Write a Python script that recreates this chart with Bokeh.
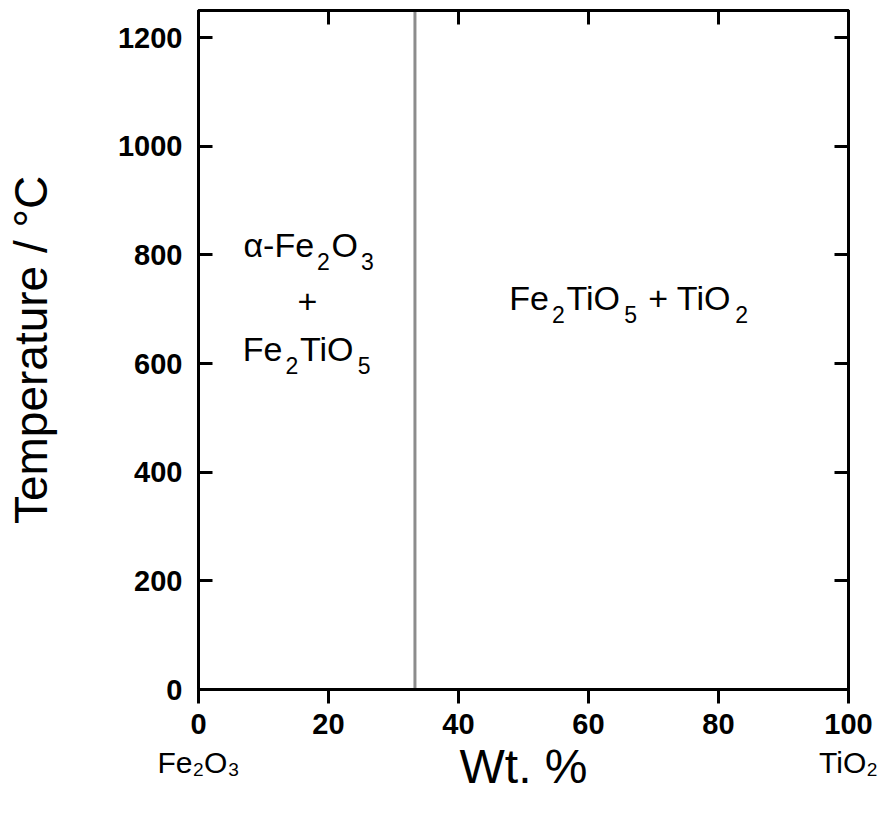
from bokeh.plotting import figure
from bokeh.models import FixedTicker, LinearAxis, Label, CustomJSTickFormatter
from bokeh.embed import file_html
from bokeh.resources import INLINE

# ---------------- data ----------------
x_ticks = [0, 20, 40, 60, 80, 100]
y_ticks = [0, 200, 400, 600, 800, 1000, 1200]
x_range = (0, 100)
y_range = (0, 1250)
boundary_wt = [33.3, 33.3]          # Fe2TiO5 composition (wt.% TiO2)
boundary_temp = [0, 1250]
x_title = "Wt. %"
y_title = "Temperature / °C"
end_ticks = [0, 100]
end_labels = ["Fe₂O₃", "TiO₂"]
phase_left_1 = [("α-Fe", False), ("2", True), ("O", False), ("3", True)]
phase_left_2 = [("+", False)]
phase_left_3 = [("Fe", False), ("2", True), ("TiO", False), ("5", True)]
phase_right = [("Fe", False), ("2", True), ("TiO", False), ("5", True),
               (" + TiO", False), ("2", True)]

# ---------------- layout ----------------
W, H = 878, 800
FL, FR, FT, FB = 198, 848, 10, 689   # frame edges in figure pixels
FONT = "Liberation Sans"

p = figure(width=W, height=H, x_range=x_range, y_range=y_range,
           output_backend="svg", toolbar_location=None,
           min_border_left=FL, min_border_right=W - FR,
           min_border_top=FT, min_border_bottom=H - FB)
p.xgrid.visible = False
p.ygrid.visible = False
p.background_fill_color = "white"
p.border_fill_color = "white"
p.outline_line_color = "black"
p.outline_line_width = 3


def style_axis(ax, ticks, tick_in, tick_out, labels=True):
    ax.ticker = FixedTicker(ticks=ticks)
    ax.axis_line_width = 3
    ax.axis_line_color = "black"
    ax.major_tick_line_width = 3
    ax.major_tick_line_color = "black"
    ax.major_tick_in = tick_in
    ax.major_tick_out = tick_out
    ax.minor_tick_line_color = None
    if labels:
        ax.major_label_text_font = FONT
        ax.major_label_text_font_style = "bold"
        ax.major_label_text_font_size = "29px"
        ax.major_label_text_color = "black"
    else:
        ax.formatter = CustomJSTickFormatter(code="return ''")
        ax.major_label_text_font_size = "0px"
        ax.major_label_standoff = 0


style_axis(p.xaxis[0], x_ticks, 0, 14)
p.xaxis[0].major_label_standoff = 10
style_axis(p.yaxis[0], y_ticks, 14, 0)
p.yaxis[0].major_label_standoff = 16
p.yaxis[0].axis_label = y_title
p.yaxis[0].axis_label_text_font = FONT
p.yaxis[0].axis_label_text_font_style = "normal"
p.yaxis[0].axis_label_text_font_size = "46px"
p.yaxis[0].axis_label_text_color = "black"
p.yaxis[0].axis_label_standoff = 58

# second bottom axis: end-member names and the x title
ends = LinearAxis()
ends.ticker = FixedTicker(ticks=end_ticks)
ends.major_label_overrides = {t: s for t, s in zip(end_ticks, end_labels)}
ends.axis_line_color = None
ends.major_tick_line_color = None
ends.major_tick_in = 0
ends.major_tick_out = 0
ends.minor_tick_line_color = None
ends.major_label_text_font = FONT
ends.major_label_text_font_size = "30px"
ends.major_label_text_color = "black"
ends.major_label_standoff = 9
ends.axis_label = x_title
ends.axis_label_text_font = FONT
ends.axis_label_text_font_style = "normal"
ends.axis_label_text_font_size = "48px"
ends.axis_label_text_color = "black"
ends.axis_label_standoff = -42
p.add_layout(ends, "below")

top = LinearAxis()
style_axis(top, x_ticks, 14, 0, labels=False)
p.add_layout(top, "above")
right = LinearAxis()
style_axis(right, y_ticks, 14, 0, labels=False)
p.add_layout(right, "right")

# phase boundary
p.line(boundary_wt, boundary_temp, line_color="#8c8c8c", line_width=3)


# ---------------- in-frame text with subscripts ----------------
def xd(px):
    return x_range[0] + (px - FL) / (FR - FL) * (x_range[1] - x_range[0])


def yd(py):
    return y_range[0] + (FB - py) / (FB - FT) * (y_range[1] - y_range[0])


ADV = {'F': .611, 'e': .556, 'T': .611, 'i': .222, 'O': .778, ' ': .278,
       '+': .584, '-': .333, 'α': .578}
for d in "0123456789":
    ADV[d] = .556


def tw(s, f):
    return sum(ADV.get(c, .556) for c in s) * f


def compose(pieces, anchor_px, baseline_px, f, align="center"):
    fs = round(f * 0.68)
    shift = 0.5 * f
    items = []
    x = 0.0
    for txt, sub in pieces:
        if sub:
            x += 0.09 * f
            items.append((txt, x, fs, baseline_px + shift))
            x += tw(txt, fs) + 0.05 * f
        else:
            lead = len(txt) - len(txt.lstrip(" "))
            x += tw(" " * lead, f)
            core = txt.strip(" ")
            items.append((core, x, f, baseline_px))
            x += tw(core, f)
            trail = len(txt) - len(txt.rstrip(" "))
            x += tw(" " * trail, f)
    total = x
    start = anchor_px - total / 2 if align == "center" else anchor_px
    for txt, off, size, bl in items:
        p.add_layout(Label(x=xd(start + off), y=yd(bl), text=txt,
                           text_font=FONT, text_font_size=f"{size}px",
                           text_color="black", text_align="left",
                           text_baseline="alphabetic"))


compose(phase_left_1, 309, 244, 34)
compose(phase_left_2, 307, 301, 34)
compose(phase_left_3, 307, 348, 34)
compose(phase_right, 629, 297, 34)

open("out.html", "w").write(file_html(p, INLINE))
